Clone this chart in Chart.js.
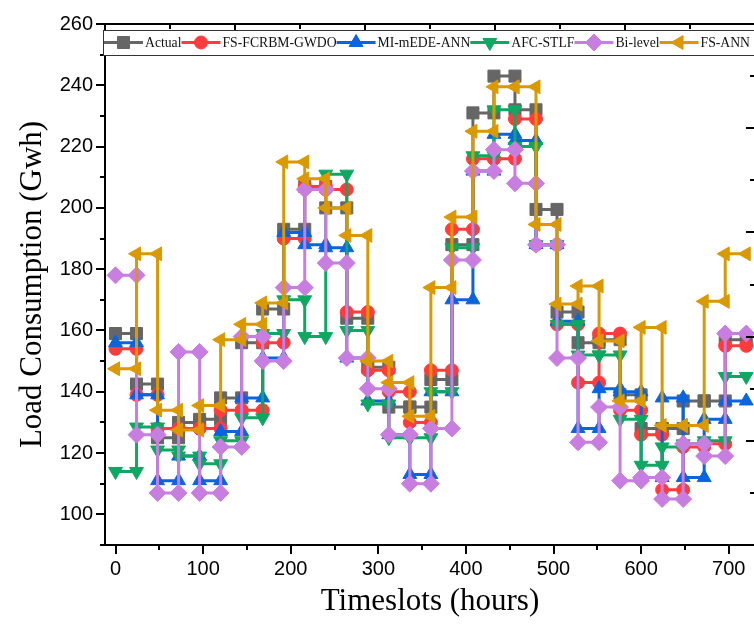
<!DOCTYPE html>
<html>
<head>
<meta charset="utf-8">
<script src="https://cdn.jsdelivr.net/npm/chart.js@4.4.1/dist/chart.umd.min.js"></script>
<style>
  html, body { margin: 0; padding: 0; background: #fff; overflow: hidden; }
  #wrap { width: 754px; height: 624px; overflow: hidden; }
</style>
</head>
<body>
<div id="wrap"><canvas id="chart" width="770" height="624"></canvas></div>
<script>
// start hour of each 24 h timeslot block
var slotStart = [0, 24, 48, 72, 96, 120, 144, 168, 192, 216, 240, 264, 288, 312, 336,
                 360, 384, 408, 432, 456, 480, 504, 528, 552, 576, 600, 624, 648, 672, 696];
var slotLength = 24;

// load per block (Gwh)
var actual   = [159, 142.5, 125, 130, 131, 138, 156, 167, 193, 207, 200, 164, 148, 135, 135,
                144, 188, 231, 243, 232, 199.5, 166, 156, 157, 139, 128, 128, 137, 137, 157];
var fsFcrbm  = [154, 139, 128, 128, 128, 134, 134, 156, 190, 207, 206, 166, 147, 140, 130,
                147, 193, 216, 216, 229, 188, 162, 143, 159, 134, 126, 108, 122, 123, 155];
var miMede   = [156, 139, 111, 119, 111, 127, 138, 151, 192, 188, 187, 151, 137, 126, 113,
                140, 170, 212, 224, 222, 188, 163, 128, 141, 140, 112, 138, 112, 131, 137];
var afcStlf  = [114, 128.5, 121, 119, 116.5, 124, 131.5, 159, 170, 158, 211, 160, 136, 125, 125,
                140, 187, 217, 232, 220, 188, 162, 152, 152, 131, 116, 122, 123, 124, 145];
var biLevel  = [178, 126, 107, 153, 107, 122, 158, 150, 174, 206, 182, 151, 141, 126, 110,
                128, 183, 212, 219, 208, 188, 151, 123.5, 135, 111, 112, 105, 123, 119, 159];
var fsAnn    = [147.5, 185, 134, 127.5, 135.5, 157, 162, 169, 215, 209.5, 200, 191, 150, 143, 132,
                174, 197, 225, 239.5, 239.5, 194.6, 168.6, 174.5, 156.6, 137, 161, 129, 129, 169.5, 185];

var seriesNames  = ['Actual', 'FS-FCRBM-GWDO', 'MI-mEDE-ANN', 'AFC-STLF', 'Bi-level', 'FS-ANN'];
var seriesValues = [actual, fsFcrbm, miMede, afcStlf, biLevel, fsAnn];

var xTickLabels = [0, 100, 200, 300, 400, 500, 600, 700];
var yTickLabels = [100, 120, 140, 160, 180, 200, 220, 240, 260];

var colors    = ['#666666', '#ff3c3c', '#0a64e0', '#0ea862', '#c87ee0', '#db9900'];
var styles    = ['rect', 'circle', 'triangle', 'triangle', 'rectRot', 'triangle'];
var rotations = [0, 0, 0, 180, 0, 270];
var radii     = [8.5, 6.5, 8, 8, 8.5, 8];

// each block becomes a flat step: start and end point share the value
function steps(vals) {
    var pts = [];
    for (var i = 0; i < vals.length; i++) {
        pts.push({ x: slotStart[i], y: vals[i] });
        pts.push({ x: slotStart[i] + slotLength, y: vals[i] });
    }
    return pts;
}

var datasets = seriesNames.map(function (name, i) {
    return {
        label: name,
        data: steps(seriesValues[i]),
        xAxisID: 'x',
        yAxisID: 'y',
        order: seriesNames.length - i,     // later series drawn on top
        borderColor: colors[i],
        backgroundColor: colors[i],
        borderWidth: 3,
        tension: 0,
        fill: false,
        pointStyle: styles[i],
        pointRotation: rotations[i],
        pointRadius: radii[i],
        pointBackgroundColor: colors[i],
        pointBorderColor: colors[i],
        pointBorderWidth: 1
    };
});

// tick marks: outward on the bottom/left axes, inward on the top/right frame
var tickPlugin = {
    id: 'frameTicks',
    afterDraw: function (chart) {
        var ctx = chart.ctx, a = chart.chartArea, s = chart.scales;
        ctx.save();
        ctx.strokeStyle = '#000';
        ctx.lineWidth = 2;
        ctx.beginPath();
        s.x.ticks.forEach(function (t) {
            var px = Math.round(s.x.getPixelForValue(t.value));
            var len = t.value % 100 === 0 ? 9 : 5;
            ctx.moveTo(px, a.bottom); ctx.lineTo(px, a.bottom + len);
        });
        s.y.ticks.forEach(function (t) {
            var py = Math.round(s.y.getPixelForValue(t.value));
            var len = t.value % 20 === 0 ? 9 : 5;
            ctx.moveTo(a.left, py); ctx.lineTo(a.left - len, py);
        });
        s.x2.ticks.forEach(function (t) {
            var px = Math.round(s.x2.getPixelForValue(t.value));
            var len = Number.isInteger(t.value) ? 9 : 5;
            ctx.moveTo(px, a.top); ctx.lineTo(px, a.top + len);
        });
        s.y2.ticks.forEach(function (t) {
            var py = Math.round(s.y2.getPixelForValue(t.value));
            var len = Number.isInteger(t.value) ? 9 : 5;
            ctx.moveTo(a.right, py); ctx.lineTo(a.right - len, py);
        });
        ctx.stroke();
        ctx.restore();
    }
};

// boxed legend with line + marker samples, like the original figure
var legendPlugin = {
    id: 'boxLegend',
    afterDraw: function (chart) {
        var ctx = chart.ctx;
        var top = 30, bottom = 55, left = 103;
        var y = (top + bottom) / 2, x = 104;
        ctx.save();
        ctx.fillStyle = '#fff';
        ctx.fillRect(left, top, chart.width - left, bottom - top);
        ctx.strokeStyle = '#333';
        ctx.lineWidth = 1;
        ctx.strokeRect(left + 0.5, top + 0.5, chart.width, bottom - top);
        ctx.font = '13.7px "Liberation Serif"';
        ctx.textBaseline = 'middle';
        ctx.textAlign = 'left';
        chart.data.datasets.forEach(function (ds) {
            ctx.strokeStyle = ds.borderColor;
            ctx.lineWidth = 3;
            ctx.beginPath();
            ctx.moveTo(x, y); ctx.lineTo(x + 39, y);
            ctx.stroke();
            ctx.fillStyle = ds.pointBackgroundColor;
            ctx.lineWidth = 1;
            Chart.helpers.drawPoint(ctx, {
                pointStyle: ds.pointStyle, rotation: ds.pointRotation,
                radius: ds.pointRadius, borderWidth: 1
            }, x + 19.5, y);
            ctx.fillStyle = '#111';
            ctx.fillText(ds.label, x + 41, y + 1);
            x += 41 + ctx.measureText(ds.label).width;
        });
        ctx.restore();
    }
};

var tickFont = { family: 'Liberation Sans', size: 20 };
var titleFont = { family: 'Liberation Serif', size: 31 };

new Chart(document.getElementById('chart'), {
    type: 'line',
    data: { datasets: datasets },
    options: {
        responsive: false,
        animation: false,
        layout: { padding: 0 },
        plugins: { legend: { display: false }, tooltip: { enabled: false } },
        scales: {
            x: {
                type: 'linear', position: 'bottom', min: -12, max: 730,
                ticks: {
                    stepSize: 50, autoSkip: false, includeBounds: false, maxRotation: 0,
                    padding: 12, color: '#000', font: tickFont,
                    callback: function (v) { return xTickLabels.indexOf(v) >= 0 ? String(v) : ''; }
                },
                grid: { drawOnChartArea: false, drawTicks: false },
                border: { color: '#000', width: 2 },
                title: { display: true, text: 'Timeslots (hours)', color: '#000', font: titleFont,
                         padding: { top: 0, bottom: 4 } },
                afterFit: function (s) { s.height = 79; }
            },
            y: {
                type: 'linear', position: 'left', min: 90, max: 260,
                ticks: {
                    stepSize: 10, autoSkip: false, includeBounds: false,
                    padding: 12, color: '#000', font: tickFont,
                    callback: function (v) { return yTickLabels.indexOf(v) >= 0 ? String(v) : ''; }
                },
                grid: { drawOnChartArea: false, drawTicks: false },
                border: { color: '#000', width: 2 },
                title: { display: true, text: 'Load Consumption (Gwh)', color: '#000', font: titleFont,
                         padding: { top: 14, bottom: 0 } },
                afterFit: function (s) { s.width = 105; }
            },
            x2: {
                type: 'linear', position: 'top', min: 0, max: 5,
                ticks: { display: false, stepSize: 0.5, includeBounds: false },
                grid: { drawOnChartArea: false, drawTicks: false },
                border: { color: '#000', width: 2 },
                afterFit: function (s) { s.height = 22; }
            },
            y2: {
                type: 'linear', position: 'right', min: 0, max: 5,
                ticks: { display: false, stepSize: 0.5, includeBounds: false },
                grid: { drawOnChartArea: false, drawTicks: false },
                border: { color: '#000', width: 2 },
                afterFit: function (s) { s.width = 15; }
            }
        }
    },
    plugins: [tickPlugin, legendPlugin]
});
</script>
</body>
</html>
